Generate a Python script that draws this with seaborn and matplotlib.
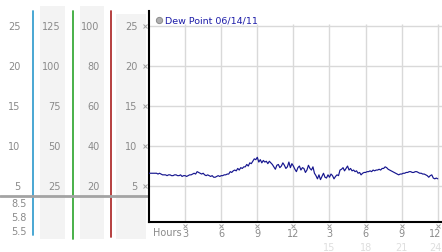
import numpy as np
import pandas as pd
import matplotlib
matplotlib.use("Agg")
import matplotlib.pyplot as plt
import seaborn as sns
from matplotlib.transforms import blended_transform_factory, ScaledTranslation
from matplotlib.patches import Rectangle

# ---------------- data ----------------
dew_point = [
    6.6, 6.6, 6.6, 6.6, 6.6, 6.6, 6.5, 6.6,
    6.5, 6.4, 6.4, 6.4, 6.3, 6.4, 6.4, 6.3,
    6.3, 6.4, 6.4, 6.3, 6.3, 6.4, 6.2, 6.3,
    6.3, 6.2, 6.3, 6.4, 6.4, 6.5, 6.6, 6.5,
    6.8, 6.7, 6.6, 6.5, 6.6, 6.4, 6.3, 6.4,
    6.3, 6.2, 6.3, 6.1, 6.1, 6.2, 6.3, 6.2,
    6.3, 6.3, 6.4, 6.4, 6.5, 6.5, 6.8, 6.7,
    6.9, 7.0, 6.9, 7.2, 7.0, 7.3, 7.2, 7.4,
    7.4, 7.7, 7.5, 7.9, 7.8, 8.1, 8.4, 8.3,
    8.6, 8.0, 8.3, 7.9, 8.2, 8.0, 8.1, 7.8,
    8.1, 7.9, 7.7, 7.4, 7.1, 7.6, 7.7, 7.3,
    7.5, 7.9, 7.6, 7.2, 7.4, 8.0, 7.3, 7.8,
    7.5, 7.1, 6.8, 7.3, 7.5, 7.0, 7.3, 7.2,
    6.7, 7.0, 7.6, 7.2, 7.0, 7.4, 6.6, 6.3,
    5.9, 6.4, 5.8, 6.2, 6.6, 6.1, 6.0, 6.4,
    6.1, 6.5, 6.3, 5.9, 6.2, 6.4, 6.3, 7.0,
    7.1, 7.3, 6.9, 7.2, 7.5, 7.0, 7.2, 6.9,
    7.0, 6.8, 6.9, 6.6, 6.7, 6.4, 6.6, 6.7,
    6.7, 6.8, 6.8, 6.9, 6.8, 7.0, 6.9, 7.0,
    7.0, 7.1, 7.0, 7.2, 7.2, 7.4, 7.3, 7.1,
    7.0, 6.9, 6.8, 6.7, 6.6, 6.5, 6.4, 6.5,
    6.5, 6.6, 6.6, 6.7, 6.7, 6.8, 6.8, 6.7,
    6.7, 6.8, 6.8, 6.7, 6.6, 6.6, 6.5, 6.5,
    6.4, 6.3, 6.1, 6.3, 6.4, 6.0, 5.9, 6.0,
    5.9,
]
hours = np.arange(len(dew_point)) * 0.125   # one reading every 7.5 minutes

legend_label = "Dew Point 06/14/11"
x_ticks = [3, 6, 9, 12, 15, 18, 21, 24]
x_tick_labels = ["3", "6", "9", "12", "3", "6", "9", "12"]
x_ticks_24 = [15, 18, 21, 24]
x_tick_labels_24 = ["15", "18", "21", "24"]
y_ticks = [5, 10, 15, 20, 25]
col1_labels = ["5", "10", "15", "20", "25"]
col2_labels = ["25", "50", "75", "100", "125"]
col3_labels = ["20", "40", "60", "80", "100"]
col4_labels = ["5", "10", "15", "20", "25"]
summary_values = ["8.5", "5.8", "5.5"]

df = pd.DataFrame({"hour": hours, "dew": dew_point})

# ---------------- figure ----------------
sns.set_style("white")
plt.rcParams["font.family"] = ["DejaVu Sans"]
W, H = 442, 253
fig = plt.figure(figsize=(W / 100, H / 100), dpi=100)
fig.patch.set_facecolor("white")

ax = fig.add_axes([149 / W, 1 - 223 / H, (442 - 149) / W, (223 - 12) / H])
ax.set_xlim(0, 24.35)
ax.set_ylim(0.5, 26.9)

grid_c = "#d9d9d9"
for yv in y_ticks:
    ax.axhline(yv, color=grid_c, lw=1.0, zorder=0)
ax.vlines(x_ticks, 0.5, 25.3, color=grid_c, lw=1.0, zorder=0)

sns.lineplot(data=df, x="hour", y="dew", ax=ax, color="#16168f",
             linewidth=0.85, legend=False, zorder=3)

ax.set_xlabel("")
ax.set_ylabel("")
ax.set_yticks([])
ax.set_xticks(x_ticks)
ax.set_xticklabels(x_tick_labels, fontsize=7, color="#8a8a8a")
ax.tick_params(axis="x", length=0, pad=4.5)
shift_left = ScaledTranslation(-2.5 / 100, 0, fig.dpi_scale_trans)
last_lab = ax.get_xticklabels()[-1]
last_lab.set_transform(last_lab.get_transform() + shift_left)
for s in ["top", "right"]:
    ax.spines[s].set_visible(False)
ax.spines["left"].set_color("black")
ax.spines["left"].set_linewidth(1.5)
ax.spines["bottom"].set_color("black")
ax.spines["bottom"].set_linewidth(1.5)

# small tick symbols above the x tick labels
tr_x = blended_transform_factory(ax.transData, ax.transAxes)
ax.plot(x_ticks, [-0.018] * len(x_ticks), transform=tr_x, ls="none",
        marker="x", ms=2.2, mew=0.7, color="#a0a0a0", clip_on=False)
for xv, lab in zip(x_ticks_24, x_tick_labels_24):
    t = tr_x + shift_left if xv == x_ticks_24[-1] else tr_x
    ax.text(xv, -0.095, lab, transform=t, ha="center", va="top",
            fontsize=7, color="#dedede", clip_on=False)
ax.text(0.012, -0.022, "Hours", transform=ax.transAxes, ha="left", va="top",
        fontsize=7, color="#8a8a8a", clip_on=False)

# legend
ax.text(0.055, 0.958, legend_label, transform=ax.transAxes, ha="left",
        va="center", fontsize=6.8, color="#1c1ca8")
ax.plot([0.034], [0.958], transform=ax.transAxes, marker="o", ms=4.5,
        mfc="#b0b0b0", mec="#8c8c8c", mew=0.7, clip_on=False)

# ---------------- left scale panel ----------------
pax = fig.add_axes([0, 0, 1, 1], zorder=-1)
pax.set_xlim(0, W)
pax.set_ylim(H, 0)
pax.axis("off")

box_c = "#f3f3f3"
pax.add_patch(Rectangle((40, 7), 25, 233, color=box_c, lw=0))
pax.add_patch(Rectangle((80, 7), 24, 233, color=box_c, lw=0))
pax.add_patch(Rectangle((116, 15), 30, 225, color=box_c, lw=0))

pax.plot([33, 33], [12, 236], color="#3aa0d0", lw=1.3)
pax.plot([72.5, 72.5], [12, 240], color="#3aaa3a", lw=1.3)
pax.plot([111, 111], [12, 238], color="#b03030", lw=1.3)
pax.plot([0, 149], [197, 197], color="#a3a3a3", lw=2.0)

tr_col = blended_transform_factory(pax.transData, ax.transData)
lab_c = "#8a8a8a"
for yv, a, b, c, d in zip(y_ticks, col1_labels, col2_labels, col3_labels, col4_labels):
    pax.text(20.5, yv, a, transform=tr_col, ha="right", va="center", fontsize=7, color=lab_c)
    pax.text(60.5, yv, b, transform=tr_col, ha="right", va="center", fontsize=7, color=lab_c)
    pax.text(99.5, yv, c, transform=tr_col, ha="right", va="center", fontsize=7, color=lab_c)
    pax.text(137.5, yv, d, transform=tr_col, ha="right", va="center", fontsize=7, color=lab_c)
pax.plot([145] * len(y_ticks), y_ticks, transform=tr_col, ls="none",
         marker="x", ms=2.2, mew=0.7, color="#a0a0a0")

for yp, v in zip([204.5, 218.5, 232.5], summary_values):
    pax.text(27, yp, v, ha="right", va="center", fontsize=7, color=lab_c)

fig.savefig("out.png", dpi=100, facecolor="white")
